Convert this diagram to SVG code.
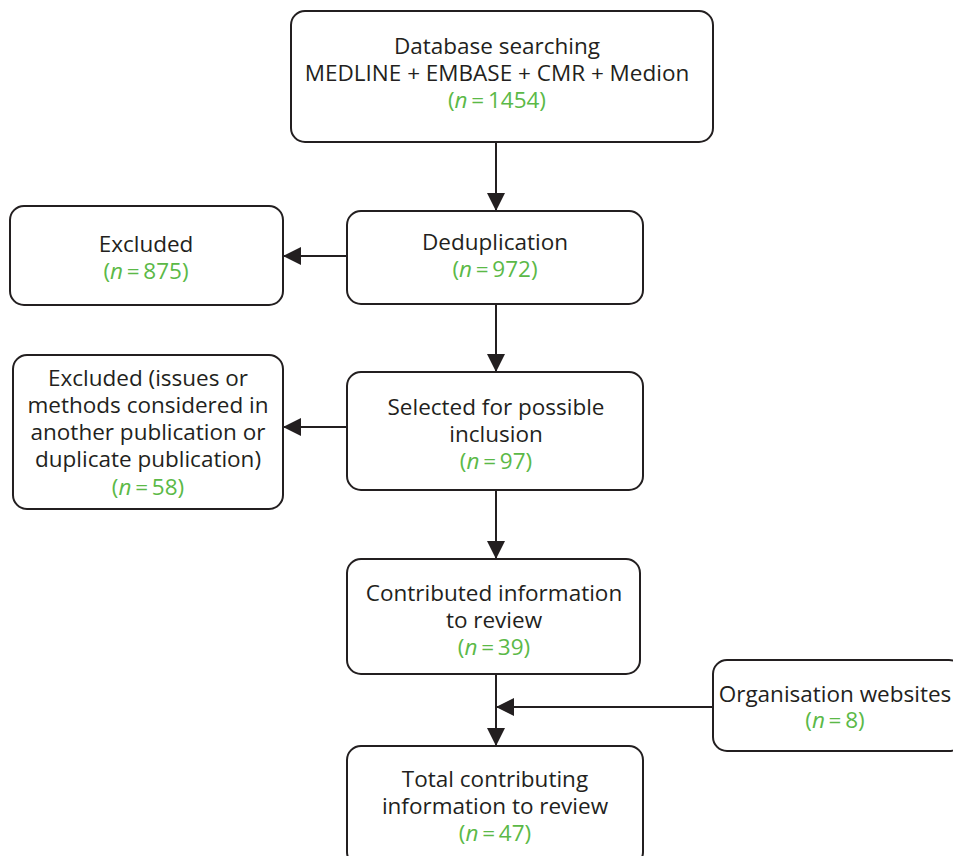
<svg xmlns="http://www.w3.org/2000/svg" width="953" height="856" viewBox="0 0 953 856">
<defs>
<style>
.box{fill:#fff;stroke:#231f20;stroke-width:2}
.t{font-family:"Open Sans","Noto Sans","Liberation Sans",sans-serif;font-size:22.5px;fill:#231f20;text-anchor:middle}
.g{fill:#5bb947}
.c{stroke:#231f20;stroke-width:2;fill:none}
</style>
<marker id="ah" markerWidth="18" markerHeight="18" refX="17" refY="9" orient="auto" markerUnits="userSpaceOnUse" viewBox="0 0 18 18">
<path d="M0,0 L18,9 L0,18 Z" fill="#231f20"/>
</marker>
</defs>
<rect width="953" height="856" fill="#fff"/>
<g id="connectors">
<line class="c" x1="496" y1="142" x2="496" y2="210" marker-end="url(#ah)"/>
<line class="c" x1="347" y1="256" x2="284" y2="256" marker-end="url(#ah)"/>
<line class="c" x1="496" y1="304" x2="496" y2="371" marker-end="url(#ah)"/>
<line class="c" x1="347" y1="427" x2="284" y2="427" marker-end="url(#ah)"/>
<line class="c" x1="496" y1="490" x2="496" y2="558" marker-end="url(#ah)"/>
<line class="c" x1="496" y1="674" x2="496" y2="745" marker-end="url(#ah)"/>
<line class="c" x1="713" y1="707" x2="497" y2="707" marker-end="url(#ah)"/>
</g>
<g id="n1">
<rect class="box" x="291" y="11" width="422" height="131" rx="14"/>
<text class="t" x="497" y="54">Database searching</text>
<text class="t" x="497" y="81">MEDLINE + EMBASE + CMR + Medion</text>
<text class="t g" x="497" y="108">(<tspan font-style="italic">n</tspan>&#8201;=&#8201;1454)</text>
</g>
<g id="n2">
<rect class="box" x="347" y="211" width="296" height="93" rx="14"/>
<text class="t" x="495" y="250">Deduplication</text>
<text class="t g" x="495" y="277">(<tspan font-style="italic">n</tspan>&#8201;=&#8201;972)</text>
</g>
<g id="n3">
<rect class="box" x="10" y="206" width="273" height="99" rx="14"/>
<text class="t" x="146" y="252">Excluded</text>
<text class="t g" x="146" y="279">(<tspan font-style="italic">n</tspan>&#8201;=&#8201;875)</text>
</g>
<g id="n4">
<rect class="box" x="347" y="372" width="296" height="118" rx="14"/>
<text class="t" x="496" y="415">Selected for possible</text>
<text class="t" x="496" y="442">inclusion</text>
<text class="t g" x="496" y="469">(<tspan font-style="italic">n</tspan>&#8201;=&#8201;97)</text>
</g>
<g id="n5">
<rect class="box" x="13" y="355" width="270" height="154" rx="14"/>
<text class="t" x="148" y="386">Excluded (issues or</text>
<text class="t" x="148" y="413">methods considered in</text>
<text class="t" x="148" y="440">another publication or</text>
<text class="t" x="148" y="467">duplicate publication)</text>
<text class="t g" x="148" y="495">(<tspan font-style="italic">n</tspan>&#8201;=&#8201;58)</text>
</g>
<g id="n6">
<rect class="box" x="347" y="559" width="293" height="115" rx="14"/>
<text class="t" x="494" y="601">Contributed information</text>
<text class="t" x="494" y="628">to review</text>
<text class="t g" x="494" y="655">(<tspan font-style="italic">n</tspan>&#8201;=&#8201;39)</text>
</g>
<g id="n7">
<rect class="box" x="713" y="660" width="250" height="91" rx="14"/>
<text class="t" x="835" y="702">Organisation websites</text>
<text class="t g" x="835" y="728">(<tspan font-style="italic">n</tspan>&#8201;=&#8201;8)</text>
</g>
<g id="n8">
<rect class="box" x="347" y="746" width="296" height="120" rx="14"/>
<text class="t" x="495" y="787">Total contributing</text>
<text class="t" x="495" y="814">information to review</text>
<text class="t g" x="495" y="841">(<tspan font-style="italic">n</tspan>&#8201;=&#8201;47)</text>
</g>
</svg>
